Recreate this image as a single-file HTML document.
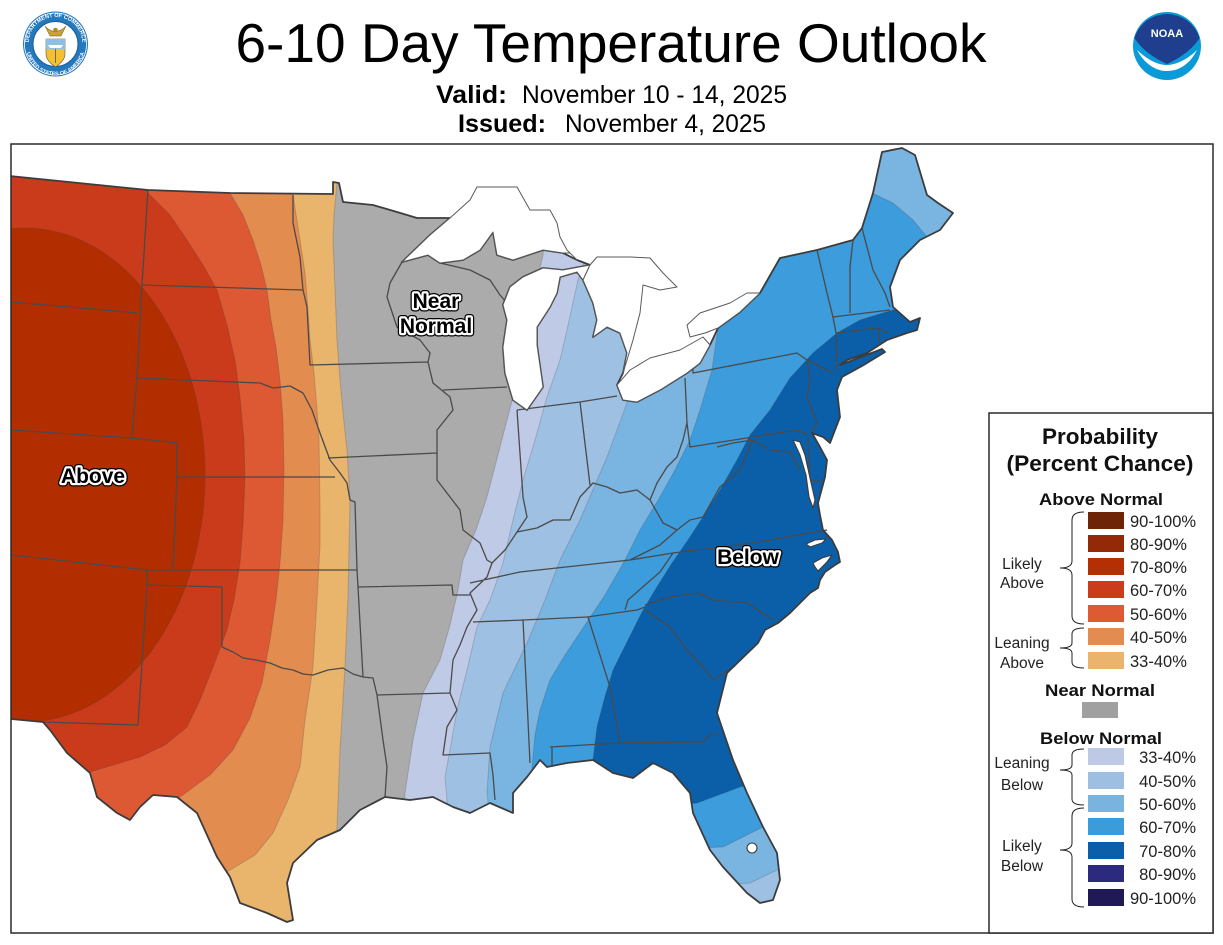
<!DOCTYPE html>
<html><head><meta charset="utf-8"><title>6-10 Day Temperature Outlook</title>
<style>
html,body{margin:0;padding:0;background:#fff;}
svg{display:block;font-family:"Liberation Sans",Arial,sans-serif;}
</style></head>
<body>
<svg width="1223" height="945" viewBox="0 0 1223 945" xmlns="http://www.w3.org/2000/svg">
<defs>
<clipPath id="land"><path id="landp" d="M0,175 L148,190 L230,193 L333,194 L333,182 L339,183 L343,202 L373,205 L397,212 L417,218 L450,218 L430,235 L402,262 L428,255 L440,263 L463,260 L480,250 L493,232 L497,255 L513,260 L543,250 L563,253 L577,260 L590,265 L563,270 L543,268 L523,277 L510,287 L503,305 L507,320 L503,347 L505,373 L513,400 L527,410 L543,387 L537,345 L537,327 L550,307 L557,293 L560,277 L577,272 L583,280 L593,303 L597,320 L593,337 L607,327 L620,333 L627,353 L623,373 L617,385 L623,400 L637,402 L660,390 L687,373 L700,363 L710,345 L718,328 L740,312 L760,293 L780,258 L817,250 L853,240 L862,228 L873,193 L882,152 L902,148 L915,155 L927,195 L938,203 L953,213 L940,230 L920,240 L900,260 L890,287 L893,307 L910,322 L920,318 L917,330 L907,333 L887,340 L867,353 L847,360 L840,365 L882,349 L885,352 L862,366 L842,377 L837,390 L840,417 L830,443 L823,437 L812,433 L820,447 L827,460 L825,477 L818,503 L820,515 L823,530 L832,540 L838,552 L840,562 L835,565 L825,572 L820,580 L818,588 L810,593 L800,603 L790,613 L778,623 L765,630 L758,643 L727,673 L717,713 L733,760 L747,793 L763,827 L777,853 L780,880 L773,900 L760,903 L747,893 L723,867 L710,850 L693,813 L690,793 L673,773 L653,763 L633,778 L613,773 L593,760 L567,763 L547,767 L540,760 L527,777 L513,793 L513,813 L490,803 L470,813 L453,807 L433,797 L410,800 L385,797 L360,810 L340,830 L317,840 L293,863 L287,883 L293,920 L287,922 L267,913 L240,903 L230,877 L217,857 L197,813 L177,797 L153,795 L140,807 L130,820 L117,813 L97,797 L90,773 L67,753 L50,730 L43,722 L0,718 Z"/></clipPath>
<clipPath id="frame"><rect x="11" y="144" width="1202" height="789"/></clipPath>
<path id="ringTop" d="M 28.5,44 A 27,27 0 0 1 82.5,44"/>
<path id="ringBot" d="M 26,46 A 29.5,29.5 0 0 0 85,46"/>
</defs>

<!-- Header -->
<text x="611" y="62" font-size="55" text-anchor="middle" fill="#000">6-10 Day Temperature Outlook</text>
<text x="436" y="103" font-size="25" font-weight="bold" textLength="71" lengthAdjust="spacingAndGlyphs" fill="#000">Valid:</text>
<text x="522" y="103" font-size="25" textLength="265" lengthAdjust="spacingAndGlyphs" fill="#000">November 10 - 14, 2025</text>
<text x="458" y="132" font-size="25" font-weight="bold" textLength="88" lengthAdjust="spacingAndGlyphs" fill="#000">Issued:</text>
<text x="565" y="132" font-size="25" textLength="201" lengthAdjust="spacingAndGlyphs" fill="#000">November 4, 2025</text>

<!-- DOC seal -->
<g>
<circle cx="55.5" cy="44" r="32.5" fill="#2478BE"/>
<circle cx="55.5" cy="44" r="31" fill="none" stroke="#fff" stroke-width="0.8"/>
<text font-size="5.5" font-weight="bold" fill="#fff"><textPath href="#ringTop" startOffset="50%" text-anchor="middle">DEPARTMENT OF COMMERCE</textPath></text>
<text font-size="5.5" font-weight="bold" fill="#fff"><textPath href="#ringBot" startOffset="50%" text-anchor="middle">UNITED STATES OF AMERICA</textPath></text>
<circle cx="55.5" cy="44" r="22.5" fill="#fff" stroke="#1c5f9a" stroke-width="1"/>
<path d="M45,26 Q55,37 66,26 L61,36 L50,36 Z" fill="#C9A23A" stroke="#6b5215" stroke-width="0.5"/>
<circle cx="55.5" cy="30" r="2.3" fill="#b08a2a"/>
<path d="M46,39 L65,39 L65,54 C65,60 60,64 55.5,67 C51,64 46,60 46,54 Z" fill="#F2C12E" stroke="#555" stroke-width="0.6"/>
<rect x="46" y="39" width="19" height="10" fill="#8EC0E4"/>
<path d="M48,45 L63,45 L61,48 L50,48 Z" fill="#fff"/>
<line x1="55.5" y1="49" x2="55.5" y2="63" stroke="#555" stroke-width="0.8"/>
</g>

<!-- NOAA logo -->
<g>
<circle cx="1167" cy="46" r="34" fill="#0A9AD8"/>
<path d="M1134.5,38 A34,34 0 0 1 1199.5,38 C1192,50 1180,58 1167,64 C1154,58 1142,50 1134.5,38 Z" fill="#1F3E8E"/>
<path d="M1137,50 C1150,62 1160,65 1167,65 C1176,65 1188,59 1197,50 C1190,64 1179,71 1167,71 C1155,71 1144,63 1137,50 Z" fill="#fff"/>
<text x="1167" y="37" font-size="11" font-weight="bold" text-anchor="middle" fill="#fff">NOAA</text>
</g>

<!-- Map -->
<g clip-path="url(#frame)">
<g clip-path="url(#land)">
<rect x="0" y="140" width="1223" height="805" fill="#ABABAB"/>
<g stroke="rgba(60,60,60,0.22)" stroke-width="1">
<path fill="#E9B46C" d="M-20,140 L337,140 L337,183 L334,215 L333,240 L335,290 L337,340 L340,380 L343,413 L347,450 L350,500 L349,550 L348,597 L345,667 L340,750 L337,827 L336,945 L-20,945 Z"/>
<path fill="#E38C4F" d="M-20,140 L292,140 L293,195 L300,240 L305,273 L308,310 L310,340 L314,373 L317,410 L319,440 L320,507 L320,545 L317,600 L313,667 L305,720 L300,767 L288,800 L273,833 L255,855 L230,870 L200,885 L150,900 L-20,945 Z"/>
<path fill="#DD5934" d="M-20,140 L225,140 L230,193 L243,215 L253,240 L261,265 L267,290 L271,320 L276,347 L280,380 L283,420 L284,470 L283,520 L280,563 L276,600 L270,640 L262,683 L250,718 L233,750 L210,775 L180,797 L150,825 L-20,840 Z"/>
<path fill="#C93B1B" d="M-20,140 L140,140 L148,193 L170,215 L187,240 L203,265 L217,290 L227,325 L235,360 L240,397 L244,440 L245,480 L243,525 L240,563 L234,600 L227,630 L213,667 L200,700 L187,727 L165,745 L140,757 L90,772 L40,775 L-20,780 Z"/>
<ellipse cx="25" cy="475" rx="180" ry="247" fill="#B22E01"/>
<path fill="#BFCAE6" d="M548,140 L546,230 L543,255 L535,290 L527,330 L520,365 L513,397 L500,447 L487,497 L476,530 L463,560 L458,590 L450,625 L440,660 L423,693 L413,740 L405,793 L400,945 L1300,945 L1300,140 Z"/>
<path fill="#9EC0E2" d="M600,140 L595,230 L585,260 L578,280 L567,330 L560,360 L547,397 L535,440 L523,480 L513,520 L503,563 L490,600 L477,627 L467,670 L457,710 L450,750 L445,777 L447,800 L450,945 L1300,945 L1300,140 Z"/>
<path fill="#7AB4E0" d="M860,140 L850,190 L780,220 L720,260 L680,300 L655,340 L640,370 L627,403 L607,457 L580,520 L560,560 L545,600 L527,643 L503,693 L490,747 L487,793 L492,840 L540,870 L620,885 L700,886 L750,883 L777,870 L830,850 L1300,850 L1300,140 Z"/>
<path fill="#3D9CDB" d="M960,255 L927,237 L913,220 L893,203 L872,193 L840,200 L800,220 L760,250 L730,290 L718,328 L712,370 L700,410 L690,440 L675,470 L660,497 L640,530 L625,560 L605,595 L585,625 L565,655 L550,680 L540,710 L535,735 L532,767 L535,800 L570,830 L640,850 L723,847 L763,827 L820,800 L1300,800 L1300,255 Z"/>
<path fill="#0B5EA8" d="M960,300 L910,305 L883,313 L860,320 L837,333 L813,353 L790,378 L770,410 L750,435 L737,460 L720,490 L703,517 L688,540 L672,563 L655,590 L642,612 L628,640 L613,670 L604,700 L597,727 L593,760 L600,790 L650,808 L697,803 L740,787 L800,770 L1300,770 L1300,300 Z"/>
</g>
</g>

<!-- state borders -->
<path fill="none" stroke="#4a4a4a" stroke-width="1.3" stroke-linejoin="round" d="
M148,190 L142,285
M11,302 L138,313
M142,285 L303,290
M142,285 L137,378 L132,438
M137,378 L260,383 L273,388 L290,386 L303,393
M11,430 L132,438 L177,443 L177,477
M177,477 L335,477
M303,393 L312,410 L320,433 L330,460 L340,473 L347,483 L350,500 L355,502 L357,570 L358,587 L363,677
M177,477 L173,570
M11,555 L147,570 L147,585 L138,725
M43,722 L138,725
M147,570 L357,570
M147,585 L222,587 L222,647 L233,652 L243,658 L256,660 L270,663 L282,668 L293,670 L303,674 L313,675 L328,670 L343,668 L353,674 L363,677 L373,678 L377,695 L383,740 L387,767 L385,797
M377,695 L450,693
M358,587 L452,585 L453,595 L470,595
M293,195 L293,223 L300,257 L303,290 L307,307 L310,365 L428,362
M328,458 L437,453
M402,262 L390,283 L387,297 L397,327 L420,340 L430,353 L428,362 L433,383 L450,397 L453,410 L437,430 L437,450 L437,480 L450,497 L460,510 L463,530 L480,543 L487,560 L492,563 L487,577 L470,593 L477,610 L467,627 L460,645 L453,660 L450,693 L457,710 L447,727 L443,755 L490,753 L493,775 L495,800
M443,390 L507,387
M440,263 L470,270 L490,280 L500,295 L507,303
M517,410 L580,402 L617,396
M517,410 L523,497 L527,517 L517,532
M580,402 L590,485
M492,563 L505,550 L517,532 L537,528 L553,520 L570,520 L580,497 L593,483 L607,487 L620,493 L637,490 L650,500 L657,483 L667,467 L677,457 L683,440 L687,423 L685,378
M693,367 L693,373 L797,353 L807,360 L833,373
M807,360 L810,380 L807,397 L817,423 L812,433
M650,500 L663,523 L677,530 L690,520 L703,517 L720,487 L740,470 L753,440
M687,423 L690,447 L797,430 L808,435
M717,447 L733,443 L753,440 L770,450 L790,452 L800,470
M808,438 L810,480 L822,482
M470,583 L520,572 L630,560 L673,553 L753,543 L827,530
M677,530 L660,545 L640,555 L630,560
M673,553 L660,572 L645,585 L628,600 L625,610
M473,622 L523,620 L587,617 L637,610 L645,607
M523,620 L527,700 L530,763
M588,617 L610,687 L620,743
M550,747 L620,743 L703,742 L710,735 L719,735
M552,747 L552,765
M645,605 L670,597 L700,593 L713,600 L747,603 L773,620
M645,610 L670,627 L687,650 L703,667 L713,680 L735,666
M817,250 L827,293 L833,317 L836,333 L837,370
M853,240 L850,267 L850,313
M862,228 L873,270 L885,293 L890,307
M833,317 L890,310
M836,333 L877,328 L888,333
M878,328 L880,345
"/>

<!-- coastline / outline -->
<use href="#landp" fill="none" stroke="#3c3c3c" stroke-width="1.8" stroke-linejoin="round"/>

<!-- lakes -->
<g fill="#fff" stroke="#5a5a5a" stroke-width="1" stroke-linejoin="round">
<path d="M402,262 L430,235 L450,218 L470,200 L477,187 L517,187 L530,210 L550,210 L557,223 L560,237 L567,250 L577,260 L570,253 L563,253 L543,250 L513,260 L497,255 L493,232 L480,250 L463,260 L440,263 L428,255 Z"/>
<path d="M590,265 L563,270 L543,268 L523,277 L510,287 L503,305 L507,320 L503,347 L505,373 L513,400 L527,410 L543,387 L537,345 L537,327 L550,307 L557,293 L560,277 L577,272 L583,280 Z"/>
<path d="M583,280 L590,265 L597,257 L630,257 L650,258 L663,273 L677,287 L660,290 L643,285 L640,313 L633,340 L627,360 L623,373 L627,353 L620,333 L607,327 L593,337 L597,320 L593,303 Z"/>
<path d="M617,385 L623,400 L637,402 L660,390 L687,373 L700,363 L710,345 L703,337 L680,350 L650,358 L630,370 Z"/>
<path d="M718,328 L740,312 L760,293 L747,293 L730,303 L700,313 L687,325 L690,337 L705,333 Z"/>
</g>
<g fill="#fff" stroke="#3c3c3c" stroke-width="1.1" stroke-linejoin="round">
<path d="M793,440 L800,455 L806,475 L809,497 L813,508 L815,500 L810,478 L805,455 L800,442 Z"/>
<path d="M806,544 L815,540 L826,539 L822,543 L810,547 Z"/>
<path d="M813,563 L822,558 L832,555 L827,562 L818,571 L815,567 Z"/>
<circle cx="752" cy="848" r="5"/>
</g>

<!-- map labels -->
<g font-weight="bold" font-size="21" text-anchor="middle">
<g stroke="#000" stroke-width="7" stroke-linejoin="round" fill="#000">
<text x="93" y="483">Above</text>
<text x="748" y="564">Below</text>
<text x="436" y="308">Near</text>
<text x="436" y="333">Normal</text>
</g>
<g stroke="#fff" stroke-width="4.5" stroke-linejoin="round" fill="#000" paint-order="stroke">
<text x="93" y="483">Above</text>
<text x="748" y="564">Below</text>
<text x="436" y="308">Near</text>
<text x="436" y="333">Normal</text>
</g>
</g>
</g>

<!-- frame -->
<rect x="11" y="144" width="1202" height="789" fill="none" stroke="#2a2a2a" stroke-width="1.5"/>

<!-- Legend -->
<rect x="989" y="413" width="224" height="520" fill="#fff" stroke="#2a2a2a" stroke-width="1.5"/>
<g fill="#111" font-weight="bold" text-anchor="middle">
<text x="1100" y="444" font-size="22" textLength="116" lengthAdjust="spacingAndGlyphs">Probability</text>
<text x="1100" y="471" font-size="22" textLength="187" lengthAdjust="spacingAndGlyphs">(Percent Chance)</text>
<text x="1101" y="505" font-size="17" textLength="124" lengthAdjust="spacingAndGlyphs">Above Normal</text>
<text x="1100" y="696" font-size="17" textLength="110" lengthAdjust="spacingAndGlyphs">Near Normal</text>
<text x="1101" y="744" font-size="17" textLength="122" lengthAdjust="spacingAndGlyphs">Below Normal</text>
</g>
<g>
<rect x="1088" y="512" width="36" height="17" fill="#6E2407"/>
<rect x="1088" y="535" width="36" height="17" fill="#932906"/>
<rect x="1088" y="558" width="36" height="17" fill="#B42F03"/>
<rect x="1088" y="581" width="36" height="17" fill="#CB3C1C"/>
<rect x="1088" y="605" width="36" height="17" fill="#DE5A35"/>
<rect x="1088" y="628" width="36" height="17" fill="#E38C51"/>
<rect x="1088" y="652" width="36" height="17" fill="#EAB46D"/>
<rect x="1082" y="702" width="36" height="16" fill="#A0A0A0"/>
<rect x="1088" y="748" width="36" height="17" fill="#BEC9E6"/>
<rect x="1088" y="772" width="36" height="17" fill="#9EBFE2"/>
<rect x="1088" y="795" width="36" height="17" fill="#79B4E1"/>
<rect x="1088" y="818" width="36" height="17" fill="#3C9BD9"/>
<rect x="1088" y="842" width="36" height="17" fill="#0B5EA7"/>
<rect x="1088" y="865" width="36" height="17" fill="#2C2A7F"/>
<rect x="1088" y="889" width="36" height="17" fill="#1F1A56"/>
</g>
<g fill="#222" font-size="16.5">
<text x="1130" y="527">90-100%</text>
<text x="1130" y="550">80-90%</text>
<text x="1130" y="573">70-80%</text>
<text x="1130" y="596">60-70%</text>
<text x="1130" y="620">50-60%</text>
<text x="1130" y="643">40-50%</text>
<text x="1130" y="667">33-40%</text>
</g>
<g fill="#222" font-size="16.5" text-anchor="end">
<text x="1196" y="763">33-40%</text>
<text x="1196" y="787">40-50%</text>
<text x="1196" y="810">50-60%</text>
<text x="1196" y="833">60-70%</text>
<text x="1196" y="857">70-80%</text>
<text x="1196" y="880">80-90%</text>
<text x="1196" y="904">90-100%</text>
</g>
<g fill="#222" font-size="15.5" text-anchor="middle">
<text x="1022" y="569">Likely</text>
<text x="1022" y="588">Above</text>
<text x="1022" y="648">Leaning</text>
<text x="1022" y="668">Above</text>
<text x="1022" y="768">Leaning</text>
<text x="1022" y="790">Below</text>
<text x="1022" y="851">Likely</text>
<text x="1022" y="871">Below</text>
</g>
<g fill="none" stroke="#222" stroke-width="1">
<path d="M1084,512 Q1072,512 1072,520 L1072,561 Q1072,568 1060,568 Q1072,568 1072,575 L1072,616 Q1072,624 1084,624"/>
<path d="M1084,628 Q1072,628 1072,634 L1072,643 Q1072,648 1060,648 Q1072,648 1072,653 L1072,662 Q1072,668 1084,668"/>
<path d="M1084,749 Q1072,749 1072,755 L1072,765 Q1072,770 1060,770 Q1072,770 1072,775 L1072,799 Q1072,805 1084,805"/>
<path d="M1084,808 Q1072,808 1072,816 L1072,843 Q1072,850 1060,850 Q1072,850 1072,857 L1072,899 Q1072,907 1084,907"/>
</g>
</svg>
</body></html>
